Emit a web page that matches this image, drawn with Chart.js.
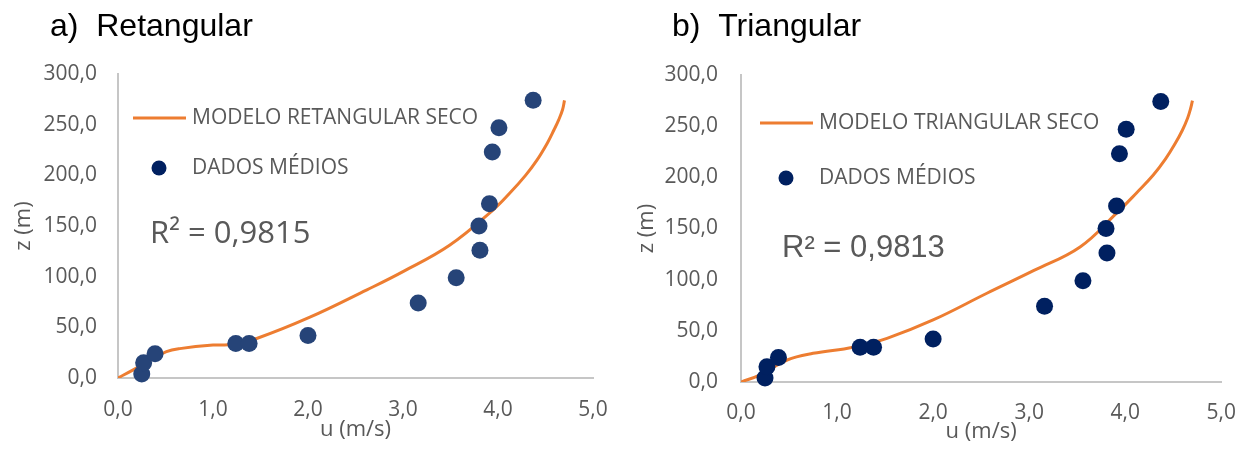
<!DOCTYPE html>
<html>
<head>
<meta charset="utf-8">
<script src="https://cdn.jsdelivr.net/npm/chart.js@4.4.0/dist/chart.umd.min.js"></script>
<style>
  html, body { margin: 0; padding: 0; background: #ffffff; }
  .panel { position: absolute; top: 0; width: 627px; height: 449px; }
  #left { left: 0; }
  #right { left: 627px; }
</style>
</head>
<body>
<div class="panel" id="left"><canvas id="chartRet"></canvas></div>
<div class="panel" id="right"><canvas id="chartTri"></canvas></div>
<script>
// measured mean profile (same in both panels)
const measuredU = [0.25, 0.27, 0.39, 1.24, 1.38, 2.0, 3.16, 3.56, 3.81, 3.80, 3.91, 3.94, 4.01, 4.37];
const measuredZ = [4, 15, 24, 34, 34, 42, 74, 99, 126, 150, 172, 223, 247, 274];

// rectangular dry model
const retModelU = [0, 0.16, 0.35, 0.51, 0.65, 1.0, 1.2, 1.46, 2.02, 2.62, 3.0, 3.49, 3.95, 4.12, 4.29, 4.41, 4.52, 4.59, 4.64, 4.68, 4.7];
const retModelZ = [0, 8, 18, 26, 29, 32.5, 33, 39, 60, 87, 105, 131, 166, 182, 200, 215, 232, 245, 255, 265, 274];

// triangular dry model
const triModelU = [0, 0.2, 0.48, 0.75, 1.17, 1.52, 2.0, 2.56, 3.05, 3.53, 3.91, 4.12, 4.29, 4.42, 4.52, 4.595, 4.65, 4.68, 4.7];
const triModelZ = [0, 7, 21.5, 28, 34, 42.7, 60.6, 86.7, 109, 132, 165, 185, 202, 218, 233, 246, 258, 267, 275];

const panelTitles = ["a)  Retangular", "b)  Triangular"];
const modelLabels = ["MODELO RETANGULAR SECO", "MODELO TRIANGULAR SECO"];
const dataLabel = "DADOS MÉDIOS";
const r2Labels = ["R² = 0,9815", "R² = 0,9813"];

const gray = "#595959";
const orange = "#ED7D31";

const toPoints = (xs, ys) => xs.map((x, i) => ({ x: x, y: ys[i] }));
const fmt = (v) => v.toFixed(1).replace(".", ",");

// titles, legend and R² drawn over the chart
const overlayPlugin = {
  id: "overlay",
  afterDraw(chart, args, o) {
    const ctx = chart.ctx;
    ctx.save();
    ctx.fillStyle = "#000000";
    ctx.font = "32px 'Liberation Sans', Arial, sans-serif";
    ctx.textBaseline = "alphabetic";
    ctx.textAlign = "left";
    ctx.fillText(o.title, o.titleX, 36);

    ctx.strokeStyle = orange;
    ctx.lineWidth = 3;
    ctx.beginPath();
    ctx.moveTo(o.legX, o.legY1);
    ctx.lineTo(o.legX + 53, o.legY1);
    ctx.stroke();

    ctx.fillStyle = "#002060";
    ctx.beginPath();
    ctx.arc(o.legX + 26, o.legY2, 7.5, 0, Math.PI * 2);
    ctx.fill();

    ctx.fillStyle = gray;
    ctx.font = "21px 'Open Sans', sans-serif";
    ctx.textBaseline = "middle";
    ctx.fillText(o.model, o.legX + 59, o.legY1);
    ctx.fillText(dataLabel, o.legX + 59, o.legY2);

    ctx.font = o.r2Font;
    ctx.fillText(o.r2, o.r2X, o.r2Y);
    ctx.restore();
  },
};

function makeChart(id, opts) {
  return new Chart(document.getElementById(id), {
    type: "scatter",
    data: {
      datasets: [
        {
          label: dataLabel,
          data: toPoints(measuredU, measuredZ),
          backgroundColor: opts.pointColor,
          borderWidth: 0,
          pointRadius: 8.5,
          clip: false,
          order: 0,
        },
        {
          label: opts.model,
          type: "line",
          data: toPoints(opts.modelU, opts.modelZ),
          borderColor: orange,
          borderWidth: 3,
          pointRadius: 0,
          tension: 0.4,
          fill: false,
          order: 1,
        },
      ],
    },
    options: {
      responsive: true,
      maintainAspectRatio: false,
      animation: false,
      layout: {
        padding: { left: 0, right: opts.padRight, top: opts.top, bottom: opts.padBottom },
      },
      plugins: {
        legend: { display: false },
        tooltip: { enabled: false },
        overlay: opts.overlay,
      },
      scales: {
        x: {
          type: "linear",
          min: 0,
          max: 5,
          grid: { display: false, drawTicks: false },
          border: { display: true, color: "#c6c6c6", width: 2 },
          ticks: {
            stepSize: 1,
            padding: opts.xTickPad,
            color: gray,
            font: { family: "'Open Sans', sans-serif", size: 21 },
            callback: (v) => fmt(v),
          },
          title: {
            display: true,
            text: "u (m/s)",
            color: gray,
            padding: 0,
            font: { family: "'Open Sans', sans-serif", size: 22 },
          },
          afterFit: (s) => { s.height = opts.xHeight; },
        },
        y: {
          type: "linear",
          min: 0,
          max: 300,
          grid: { display: false, drawTicks: false },
          border: { display: true, color: "#c6c6c6", width: 2 },
          ticks: {
            stepSize: 50,
            padding: opts.yTickPad,
            color: gray,
            font: { family: "'Open Sans', sans-serif", size: 21 },
            callback: (v) => fmt(v),
          },
          title: {
            display: true,
            text: "z (m)",
            color: gray,
            padding: { top: opts.yTitlePad, bottom: 0 },
            font: { family: "'Open Sans', sans-serif", size: 22 },
          },
          afterFit: (s) => { s.width = opts.yWidth; },
        },
      },
    },
    plugins: [overlayPlugin],
  });
}

makeChart("chartRet", {
  pointColor: "#264478",
  model: modelLabels[0],
  modelU: retModelU,
  modelZ: retModelZ,
  padRight: 34,
  top: 74,
  padBottom: 6,
  xHeight: 65,
  yWidth: 118,
  xTickPad: 19,
  yTickPad: 21,
  yTitlePad: 11,
  overlay: {
    title: panelTitles[0],
    titleX: 50,
    model: modelLabels[0],
    legX: 133,
    legY1: 118,
    legY2: 168,
    r2: r2Labels[0],
    r2X: 150,
    r2Y: 234,
    r2Font: "31px 'Open Sans', sans-serif",
  },
});

makeChart("chartTri", {
  pointColor: "#002060",
  model: modelLabels[1],
  modelU: triModelU,
  modelZ: triModelZ,
  padRight: 32,
  top: 75,
  padBottom: 4,
  xHeight: 63,
  yWidth: 114,
  xTickPad: 18,
  yTickPad: 23,
  yTitlePad: 7,
  overlay: {
    title: panelTitles[1],
    titleX: 45,
    model: modelLabels[1],
    legX: 133,
    legY1: 123,
    legY2: 178,
    r2: r2Labels[1],
    r2X: 155,
    r2Y: 248,
    r2Font: "31px 'Liberation Sans', Arial, sans-serif",
  },
});
</script>
</body>
</html>
